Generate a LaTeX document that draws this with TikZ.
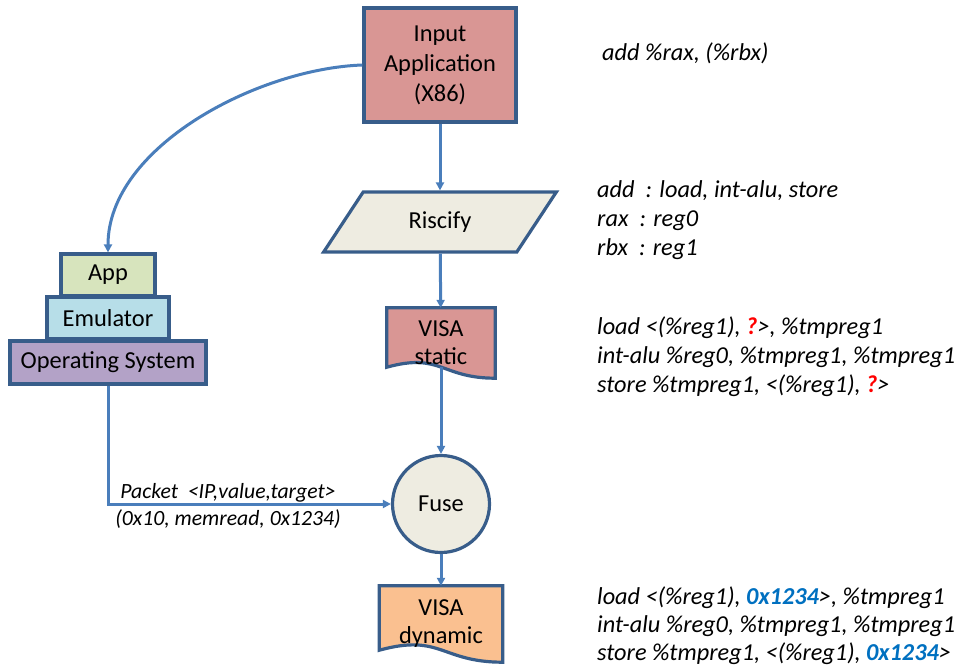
\documentclass[tikz,border=0pt]{standalone}
\usepackage{fontspec}
\setmainfont{Carlito}
\usetikzlibrary{shapes.geometric}
\usetikzlibrary{positioning}
\usetikzlibrary{arrows.meta}
\usetikzlibrary{backgrounds}
\definecolor{borderblue}{HTML}{385D8A}
\definecolor{edgeblue}{HTML}{4A7EBB}
\definecolor{inred}{HTML}{D99694}
\definecolor{paper}{HTML}{EEECE1}
\definecolor{appgreen}{HTML}{D7E4BD}
\definecolor{emuaqua}{HTML}{B7DEE8}
\definecolor{ospurple}{HTML}{B3A2C7}
\definecolor{dynorange}{HTML}{FAC090}
\definecolor{valblue}{HTML}{0070C0}
\tikzset{
    boxnode/.style = {rectangle, line width=3.2pt, draw=borderblue, align=center, inner sep=0pt, font=\fontsize{24.4}{30}\selectfont, text=black},
    risnode/.style = {trapezium, trapezium left angle=52, trapezium right angle=128, trapezium stretches=true, line width=3.2pt, draw=borderblue, fill=paper, inner sep=0pt, font=\fontsize{24.4}{30}\selectfont},
    docnode/.style = {rectangle, draw=none, align=center, inner sep=0pt, font=\fontsize{24.4}{28}\selectfont},
    docwave/.style = {line width=3.2pt, draw=borderblue},
    fusenode/.style = {circle, line width=3.2pt, draw=borderblue, fill=paper, inner sep=0pt, minimum size=97pt, font=\fontsize{24.4}{30}\selectfont},
    codenode/.style = {anchor=west, align=left, inner sep=0pt, font=\fontsize{24.3}{29}\itshape},
    edgen/.style = {line width=3pt, edgeblue, -{Triangle[length=8pt,width=8pt]}},
}
\newcommand{\qmark}{\textcolor{red}{\bfseries ?}}
\newcommand{\addrval}{\textcolor{valblue}{\bfseries 0x1234}}

\begin{document}
\begin{tikzpicture}[x=1pt, y=-1pt]
  \useasboundingbox (0,0) rectangle (959,672);
  \clip (0,0) rectangle (959,672);
  % flow column
  \node[boxnode, fill=inred, minimum width=152pt, minimum height=114pt] (inapp) at (440,65) {\rule{0pt}{6pt}Input\\Application\\(X86)};
  \node[risnode, minimum width=235pt, minimum height=60pt] (risc) at (440,222) {Riscify};
  \node[docnode, minimum width=108pt, minimum height=70pt] (vstat) at (441,343) {VISA\\static};
  \node[fusenode] (fuse) at (441,504) {Fuse};
  \node[docnode, minimum width=123pt, minimum height=76pt] (vdyn) at (441,624) {VISA\\dynamic};
  \begin{scope}[on background layer]
    \path[docwave, fill=inred] (vstat.north west) -- (vstat.north east) -- (vstat.south east)
      .. controls (vstat.south) and ([yshift=26pt]vstat.south) .. ([yshift=11pt]vstat.south west) -- cycle;
    \path[docwave, fill=dynorange] (vdyn.north west) -- (vdyn.north east) -- (vdyn.south east)
      .. controls (vdyn.south) and ([yshift=29pt]vdyn.south) .. ([yshift=12pt]vdyn.south west) -- cycle;
  \end{scope}
  % emulator stack
  \node[boxnode, fill=appgreen, minimum width=94pt, minimum height=42pt] (app) at (108,275) {App};
  \node[boxnode, fill=emuaqua, minimum width=122pt, minimum height=42pt] (emu) at (108,318) {Emulator};
  \node[boxnode, fill=ospurple, minimum width=196pt, minimum height=43pt] (os) at (108,362.5) {Operating System};
  % connectors
  \draw[edgen] (inapp) -- (risc);
  \draw[edgen] (risc) -- (vstat);
  \draw[edgen] ([yshift=11pt]vstat.south) -- (fuse);
  \draw[edgen] (fuse) -- (vdyn);
  \draw[edgen] (inapp.west) to[out=182, in=90, looseness=0.85] (app.north);
  \draw[edgen] (os.south) |- (fuse.west);
  \node[align=center, inner sep=0pt, font=\fontsize{21.7}{27}\itshape] (pkt) at (228,505.5) {Packet~~<IP,value,target>\\(0x10, memread, 0x1234)};
  % instruction text
  \node[codenode] (x86) at (602,53) {add \%rax, (\%rbx)};
  \node[codenode] (map) at (597,220.5) {add~~: load, int-alu, store\\rax~~: reg0\\rbx~~: reg1};
  \node[codenode] (stat) at (597,357) {load <(\%reg1), \qmark>, \%tmpreg1\\int-alu \%reg0, \%tmpreg1, \%tmpreg1\\store \%tmpreg1, <(\%reg1), \qmark>};
  \node[codenode, font=\fontsize{24.3}{28}\itshape] (dyn) at (597,626) {load <(\%reg1), \addrval>, \%tmpreg1\\int-alu \%reg0, \%tmpreg1, \%tmpreg1\\store \%tmpreg1, <(\%reg1), \addrval>};
\end{tikzpicture}
\end{document}
